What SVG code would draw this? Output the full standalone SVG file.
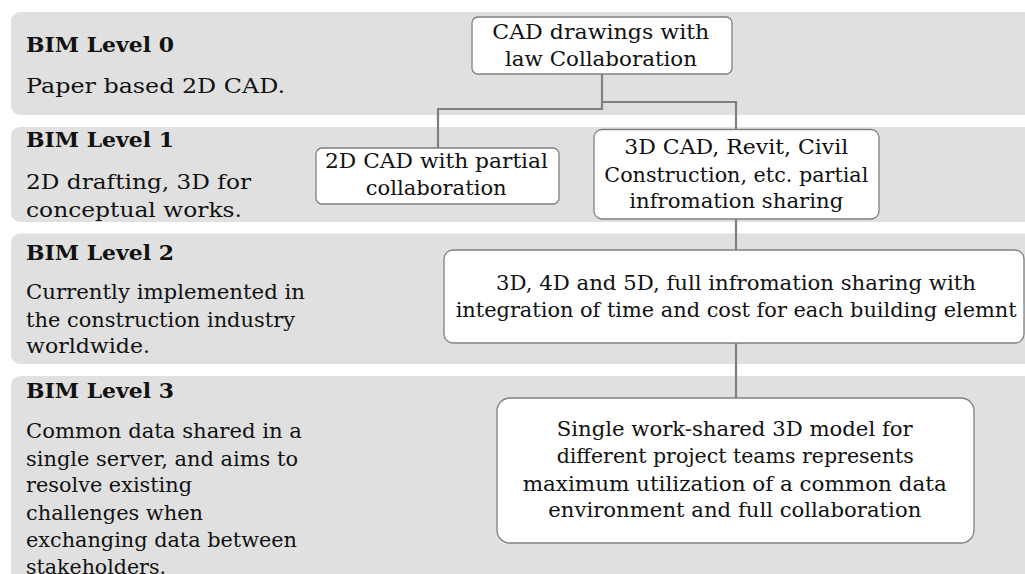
<svg xmlns="http://www.w3.org/2000/svg" width="1025" height="574" viewBox="0 0 1025 574">
<style>
.band{fill:#e0e0e0}
.box{fill:#ffffff;stroke:#808080;stroke-width:1.3}
.t{font-family:"DejaVu Serif","Liberation Serif",serif;font-size:21px;fill:#111}
.b{font-weight:bold}
.conn{fill:none;stroke:#7f7f7f;stroke-width:2.2}
</style>
<rect width="1025" height="574" fill="#ffffff"/>
<g id="bands">
<rect class="band" x="11" y="12" width="1040" height="103" rx="9"/>
<rect class="band" x="11" y="127" width="1040" height="95" rx="9"/>
<rect class="band" x="11" y="233.5" width="1040" height="130.5" rx="9"/>
<rect class="band" x="11" y="376" width="1040" height="240" rx="9"/>
</g>
<g id="level-0">
<text class="t b" x="26" y="51.7" textLength="148" lengthAdjust="spacingAndGlyphs">BIM Level 0</text>
<text class="t" x="26" y="92.7" textLength="259" lengthAdjust="spacingAndGlyphs">Paper based 2D CAD.</text>
</g>
<g id="level-1">
<text class="t b" x="26" y="146.7" textLength="148" lengthAdjust="spacingAndGlyphs">BIM Level 1</text>
<text class="t" x="26" y="189" textLength="225" lengthAdjust="spacingAndGlyphs">2D drafting, 3D for</text>
<text class="t" x="26" y="216.7" textLength="216" lengthAdjust="spacingAndGlyphs">conceptual works.</text>
</g>
<g id="level-2">
<text class="t b" x="26" y="260" textLength="148" lengthAdjust="spacingAndGlyphs">BIM Level 2</text>
<text class="t" x="26" y="299.3" textLength="279" lengthAdjust="spacingAndGlyphs">Currently implemented in</text>
<text class="t" x="26" y="326.7" textLength="269" lengthAdjust="spacingAndGlyphs">the construction industry</text>
<text class="t" x="26" y="353.3" textLength="124" lengthAdjust="spacingAndGlyphs">worldwide.</text>
</g>
<g id="level-3">
<text class="t b" x="26" y="398.3" textLength="148" lengthAdjust="spacingAndGlyphs">BIM Level 3</text>
<text class="t" x="26" y="438.3" textLength="276" lengthAdjust="spacingAndGlyphs">Common data shared in a</text>
<text class="t" x="26" y="465.7" textLength="272" lengthAdjust="spacingAndGlyphs">single server, and aims to</text>
<text class="t" x="26" y="492.3" textLength="166" lengthAdjust="spacingAndGlyphs">resolve existing</text>
<text class="t" x="26" y="520" textLength="177" lengthAdjust="spacingAndGlyphs">challenges when</text>
<text class="t" x="26" y="546.7" textLength="271" lengthAdjust="spacingAndGlyphs">exchanging data between</text>
<text class="t" x="26" y="573.5" textLength="140" lengthAdjust="spacingAndGlyphs">stakeholders.</text>
</g>
<g id="connectors">
<path class="conn" d="M602,74 V109 H438 V148"/>
<path class="conn" d="M602,102 H736 V129.5"/>
<path class="conn" d="M736,219 V250"/>
<path class="conn" d="M736,343 V398"/>
</g>
<g id="node-cad">
<rect class="box" x="472" y="17" width="260" height="57" rx="6"/>
<text class="t" x="492.3" y="39" textLength="217" lengthAdjust="spacingAndGlyphs">CAD drawings with</text>
<text class="t" x="505" y="65.7" textLength="192" lengthAdjust="spacingAndGlyphs">law Collaboration</text>
</g>
<g id="node-2dcad">
<rect class="box" x="316" y="148" width="243" height="56" rx="6"/>
<text class="t" x="325" y="168.3" textLength="223" lengthAdjust="spacingAndGlyphs">2D CAD with partial</text>
<text class="t" x="365.7" y="195" textLength="141" lengthAdjust="spacingAndGlyphs">collaboration</text>
</g>
<g id="node-3dcad">
<rect class="box" x="594" y="129.5" width="285" height="89.5" rx="8"/>
<text class="t" x="624.3" y="154.3" textLength="224" lengthAdjust="spacingAndGlyphs">3D CAD, Revit, Civil</text>
<text class="t" x="604.3" y="181.7" textLength="264" lengthAdjust="spacingAndGlyphs">Construction, etc. partial</text>
<text class="t" x="629.3" y="208.3" textLength="214" lengthAdjust="spacingAndGlyphs">infromation sharing</text>
</g>
<g id="node-345d">
<rect class="box" x="444" y="250" width="580" height="93" rx="9"/>
<text class="t" x="496" y="290" textLength="480" lengthAdjust="spacingAndGlyphs">3D, 4D and 5D, full infromation sharing with</text>
<text class="t" x="455.7" y="317.3" textLength="561" lengthAdjust="spacingAndGlyphs">integration of time and cost for each building elemnt</text>
</g>
<g id="node-single">
<rect class="box" x="497" y="398" width="477" height="145" rx="13"/>
<text class="t" x="556.7" y="436" textLength="356" lengthAdjust="spacingAndGlyphs">Single work-shared 3D model for</text>
<text class="t" x="556.7" y="463.3" textLength="357" lengthAdjust="spacingAndGlyphs">different project teams represents</text>
<text class="t" x="522.7" y="490.7" textLength="424" lengthAdjust="spacingAndGlyphs">maximum utilization of a common data</text>
<text class="t" x="548.3" y="517.3" textLength="373" lengthAdjust="spacingAndGlyphs">environment and full collaboration</text>
</g>
</svg>
